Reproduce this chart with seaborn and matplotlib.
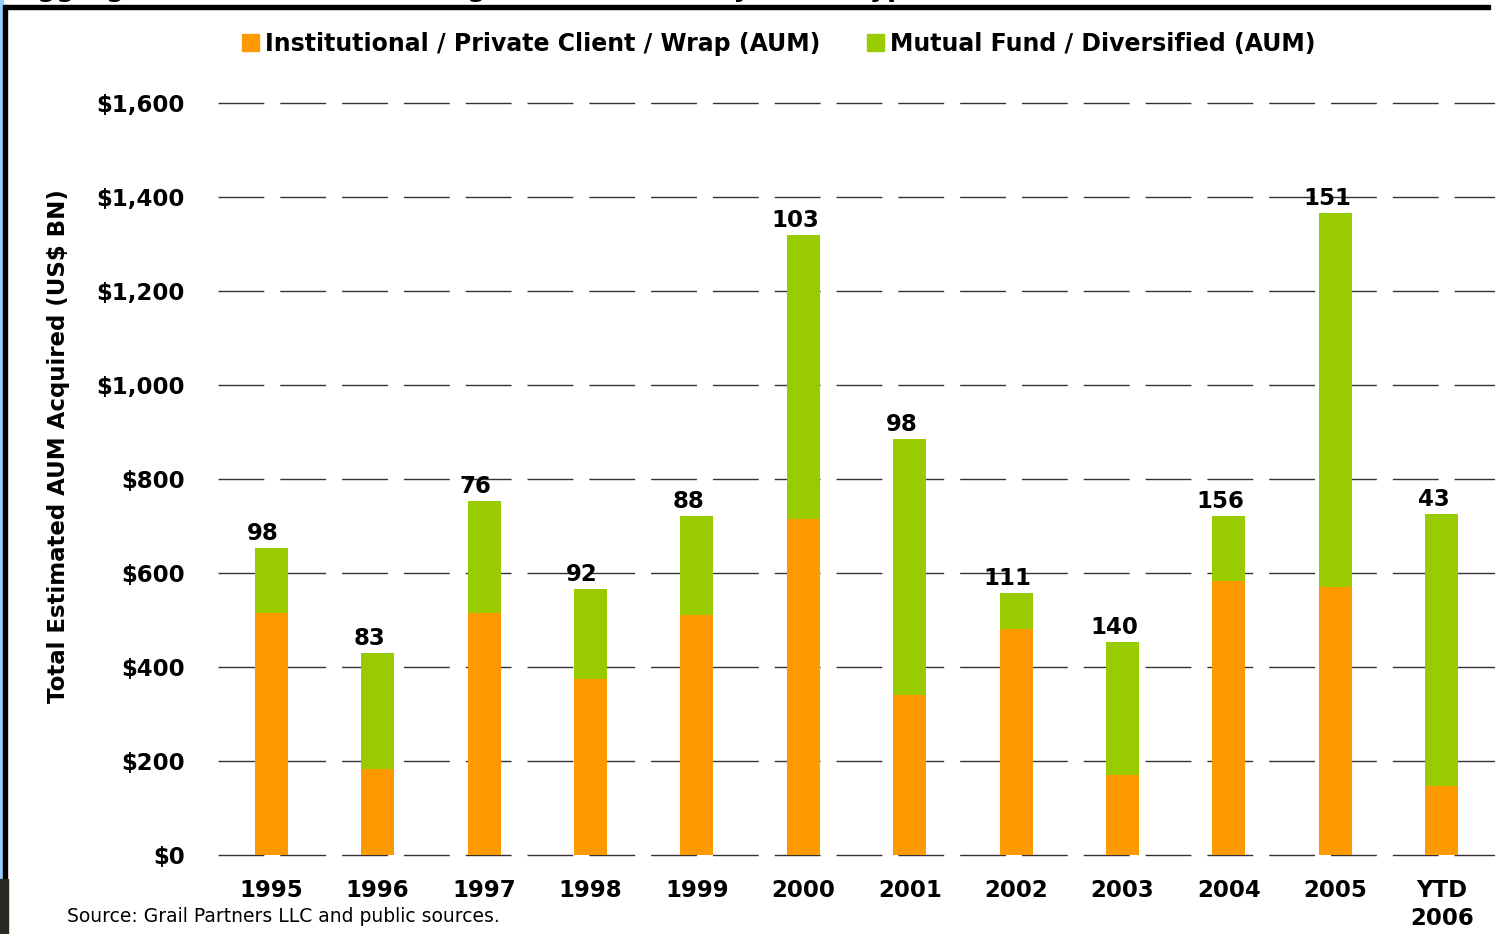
import matplotlib
matplotlib.use("Agg")
import matplotlib.pyplot as plt
from matplotlib.patches import Rectangle, Patch
import pandas as pd
import seaborn as sns

# Data (US$ BN)
years = ["1995", "1996", "1997", "1998", "1999", "2000", "2001",
         "2002", "2003", "2004", "2005", "YTD\n2006"]
institutional = [515, 183, 515, 374, 511, 715, 340, 481, 170, 583, 570, 147]
mutual_fund = [138, 247, 238, 192, 210, 604, 545, 76, 283, 138, 796, 579]
deal_counts = [98, 83, 76, 92, 88, 103, 98, 111, 140, 156, 151, 43]
yticks = [0, 200, 400, 600, 800, 1000, 1200, 1400, 1600]

orange = "#FF9900"
green = "#99CC00"

df = pd.DataFrame({"Year": years, "Institutional": institutional,
                   "Mutual": mutual_fund, "Deals": deal_counts})
df["Total"] = df["Institutional"] + df["Mutual"]

sns.set_theme(style="white")
plt.rcParams["font.family"] = ["DejaVu Sans"]
plt.rcParams["text.color"] = "black"
plt.rcParams["xtick.color"] = "black"
plt.rcParams["ytick.color"] = "black"
plt.rcParams["axes.labelcolor"] = "black"

fig = plt.figure(figsize=(14.95, 9.34), dpi=100)
ax = fig.add_axes([218 / 1495, 79 / 934, 1 - 218 / 1495, 752 / 934])

# stacked bars: total (green) behind, institutional (orange) in front
sns.barplot(data=df, x="Year", y="Total", color=green, width=0.31,
            saturation=1, linewidth=0, ax=ax, zorder=3)
sns.barplot(data=df, x="Year", y="Institutional", color=orange, width=0.31,
            saturation=1, linewidth=0, ax=ax, zorder=4)

# deal count labels
for i, row in df.iterrows():
    ax.annotate(str(row["Deals"]), xy=(i, row["Total"]), xytext=(-6, 2),
                textcoords="offset points", ha="center", va="bottom",
                fontsize=16.5, fontweight="bold", color="black")

ax.set_xlim(-0.5, len(years) - 0.5)
ax.set_ylim(0, 1600)
ax.set_yticks(yticks)
ax.set_yticklabels([f"${v:,}" for v in yticks])
ax.tick_params(axis="y", length=0, pad=24, labelsize=16.5)
ax.tick_params(axis="x", length=0, pad=17, labelsize=16.5)
for lbl in ax.get_xticklabels() + ax.get_yticklabels():
    lbl.set_fontweight("bold")
    lbl.set_linespacing(1.3)

ax.yaxis.grid(True, color="#333333", linewidth=1.0, linestyle=(0, (33, 11.5)))
for gl in ax.get_ygridlines():
    gl.set_clip_on(False)
ax.set_axisbelow(True)
for s in ax.spines.values():
    s.set_visible(False)
ax.set_xlabel("")
ax.set_ylabel("Total Estimated AUM Acquired (US$ BN)", fontsize=16.5,
              fontweight="bold")
ax.yaxis.set_label_coords(-0.116, 0.544)

handles = [Patch(color=orange, label="Institutional / Private Client / Wrap (AUM)"),
           Patch(color=green, label="Mutual Fund / Diversified (AUM)")]
leg = fig.legend(handles=handles, loc="center", bbox_to_anchor=(0.521, 0.953),
                 ncol=2, frameon=False, handlelength=0.7, handleheight=0.7,
                 handletextpad=0.25, columnspacing=2.0,
                 prop={"size": 17, "weight": "bold"})

fig.text(67 / 1495, 17 / 934, "Source: Grail Partners LLC and public sources.",
         fontsize=13.5, ha="left", va="center", color="black")

# slide frame: clipped title, top rule, left edge
fig.text(17 / 1495, 1 + 4 / 934,
         "Aggregate Assets of the Managers Transacted by Seller Type",
         fontsize=19, fontweight="bold", ha="left", va="baseline")
fig.patches.append(Rectangle((5 / 1495, 1 - 9 / 934), 1485 / 1495, 4 / 934,
                             transform=fig.transFigure, color="black"))
fig.patches.append(Rectangle((0, 55 / 934), 3 / 1495, 1, transform=fig.transFigure,
                             color="#99CCFF"))
fig.patches.append(Rectangle((3 / 1495, 55 / 934), 4 / 1495, 1 - 60 / 934,
                             transform=fig.transFigure, color="black"))
fig.patches.append(Rectangle((0, 0), 8 / 1495, 55 / 934, transform=fig.transFigure,
                             color="#2A2A24"))

fig.savefig("out.png", dpi=100)
